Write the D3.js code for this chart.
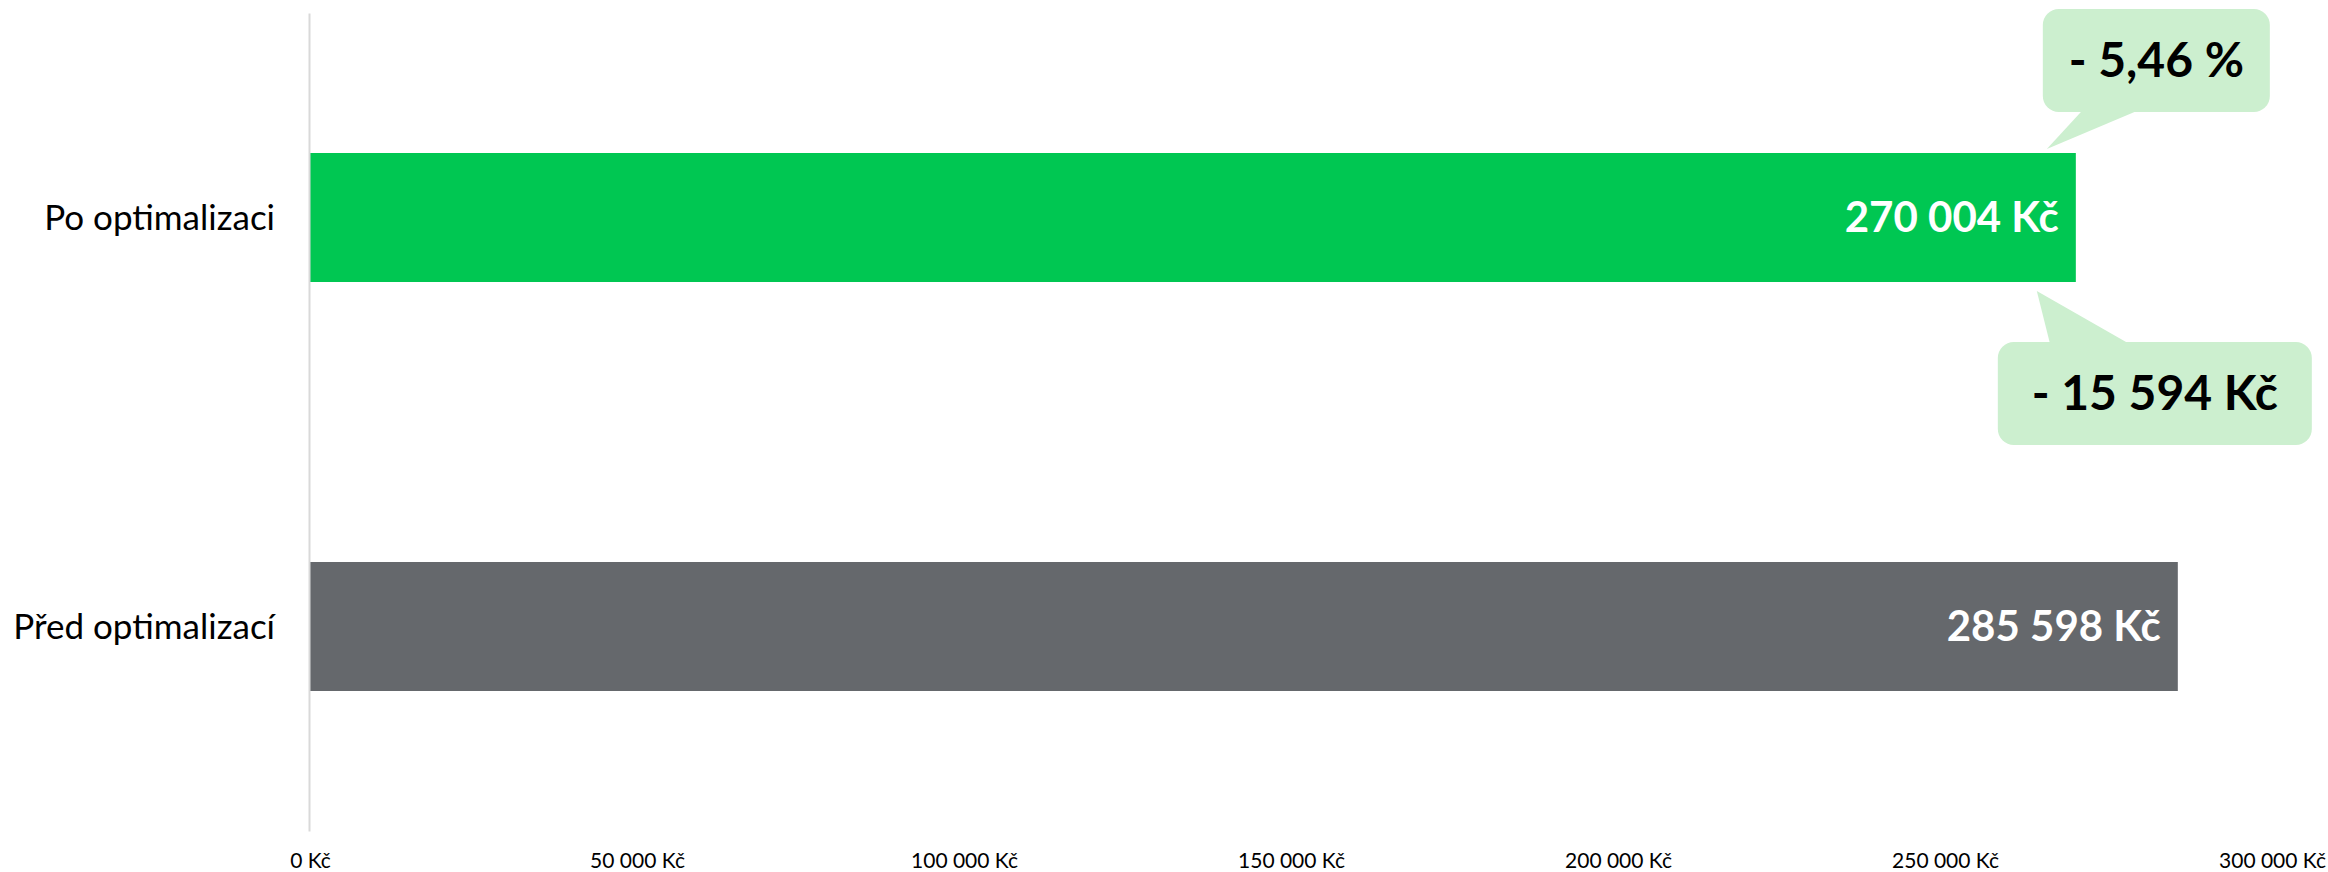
<!DOCTYPE html>
<html>
<head>
<meta charset="utf-8">
<style>
body { margin: 0; background: #fff; }
svg { display: block; font-family: Lato, "Noto Sans", sans-serif; }
.yaxis text { font-family: Lato, "Noto Sans", sans-serif; font-size: 35px; fill: #000; }
.xaxis text { font-family: Lato, "Noto Sans", sans-serif; font-size: 21px; fill: #000; }
</style>
<script src="https://cdn.jsdelivr.net/npm/d3@7"></script>
</head>
<body>
<div id="chart"></div>
<script>
var categories = ["Po optimalizaci", "Před optimalizací"];
var values = [270004, 285598];
var barColors = ["#00c752", "#65686c"];
var xTicks = [0, 50000, 100000, 150000, 200000, 250000, 300000];

var width = 2328, height = 872;

var cz = d3.formatLocale({decimal: ",", thousands: "\u00a0", grouping: [3], currency: ["", " Kč"]});
var fmtKc = cz.format("$,.0f");
var fmtPct = cz.format(",.2f");

var svg = d3.select("#chart").append("svg")
  .attr("width", width)
  .attr("height", height);

var x = d3.scaleLinear()
  .domain([0, 300000])
  .range([310, 2272]);

var y = d3.scaleBand()
  .domain(categories)
  .range([13, 831])
  .paddingInner(0.6846)
  .paddingOuter(0.3423);

// bars
svg.selectAll("rect.bar")
  .data(values)
  .enter().append("rect")
  .attr("class", "bar")
  .attr("x", x(0))
  .attr("y", function(d, i) { return y(categories[i]); })
  .attr("width", function(d) { return x(d) - x(0); })
  .attr("height", y.bandwidth())
  .attr("fill", function(d, i) { return barColors[i]; });

// value labels inside bars
svg.selectAll("text.val")
  .data(values)
  .enter().append("text")
  .attr("class", "val")
  .attr("x", function(d) { return x(d) - 17; })
  .attr("y", function(d, i) { return y(categories[i]) + y.bandwidth() / 2; })
  .attr("dy", "0.35em")
  .attr("text-anchor", "end")
  .attr("font-size", 42)
  .attr("font-weight", "bold")
  .attr("fill", "#fff")
  .text(function(d) { return fmtKc(d); });

// axes
var yAxis = svg.append("g")
  .attr("class", "yaxis")
  .attr("transform", "translate(309,0)")
  .call(d3.axisLeft(y).tickSize(0).tickSizeOuter(0).tickPadding(34));
yAxis.select(".domain").attr("stroke", "#d9d9d9").attr("stroke-width", 2);
yAxis.selectAll("text").attr("dy", "0.35em");

var xAxis = svg.append("g")
  .attr("class", "xaxis")
  .attr("transform", "translate(0,831)")
  .call(d3.axisBottom(x).tickValues(xTicks).tickSize(0).tickPadding(22).tickFormat(fmtKc));
xAxis.select(".domain").remove();

// callouts
var after = values[0], before = values[1];
var diff = before - after;
var pct = diff / before * 100;
var calloutFill = "#ccefcf";

function roundRect(x0, y0, w, h, r) {
  var p = d3.path();
  p.moveTo(x0 + r, y0);
  p.lineTo(x0 + w - r, y0);
  p.arcTo(x0 + w, y0, x0 + w, y0 + r, r);
  p.lineTo(x0 + w, y0 + h - r);
  p.arcTo(x0 + w, y0 + h, x0 + w - r, y0 + h, r);
  p.lineTo(x0 + r, y0 + h);
  p.arcTo(x0, y0 + h, x0, y0 + h - r, r);
  p.lineTo(x0, y0 + r);
  p.arcTo(x0, y0, x0 + r, y0, r);
  p.closePath();
  return p.toString();
}

var ax = x(after);
var barTop = y(categories[0]);
var barBot = barTop + y.bandwidth();

// upper callout (percentage)
var c1 = {x: ax - 33, y: 9, w: 227, h: 103};
svg.append("path")
  .attr("d", roundRect(c1.x, c1.y, c1.w, c1.h, 16))
  .attr("fill", calloutFill);
svg.append("path")
  .attr("d", d3.line()([[ax + 6, c1.y + c1.h - 1], [ax - 29, barTop - 4], [ax + 61, c1.y + c1.h - 1]]))
  .attr("fill", calloutFill);
svg.append("text")
  .attr("x", c1.x + c1.w / 2)
  .attr("y", c1.y + c1.h / 2)
  .attr("dy", "0.35em")
  .attr("text-anchor", "middle")
  .attr("font-size", 48)
  .attr("font-weight", "bold")
  .attr("fill", "#000")
  .text("- " + fmtPct(pct) + " %");

// lower callout (difference)
var c2 = {x: ax - 78, y: 342, w: 314, h: 103};
svg.append("path")
  .attr("d", roundRect(c2.x, c2.y, c2.w, c2.h, 16))
  .attr("fill", calloutFill);
svg.append("path")
  .attr("d", d3.line()([[ax - 26, c2.y + 1], [ax - 39, barBot + 9], [ax + 52, c2.y + 1]]))
  .attr("fill", calloutFill);
svg.append("text")
  .attr("x", c2.x + c2.w / 2)
  .attr("y", c2.y + c2.h / 2)
  .attr("dy", "0.35em")
  .attr("text-anchor", "middle")
  .attr("font-size", 48)
  .attr("font-weight", "bold")
  .attr("fill", "#000")
  .text("- " + fmtKc(diff));
</script>
</body>
</html>
